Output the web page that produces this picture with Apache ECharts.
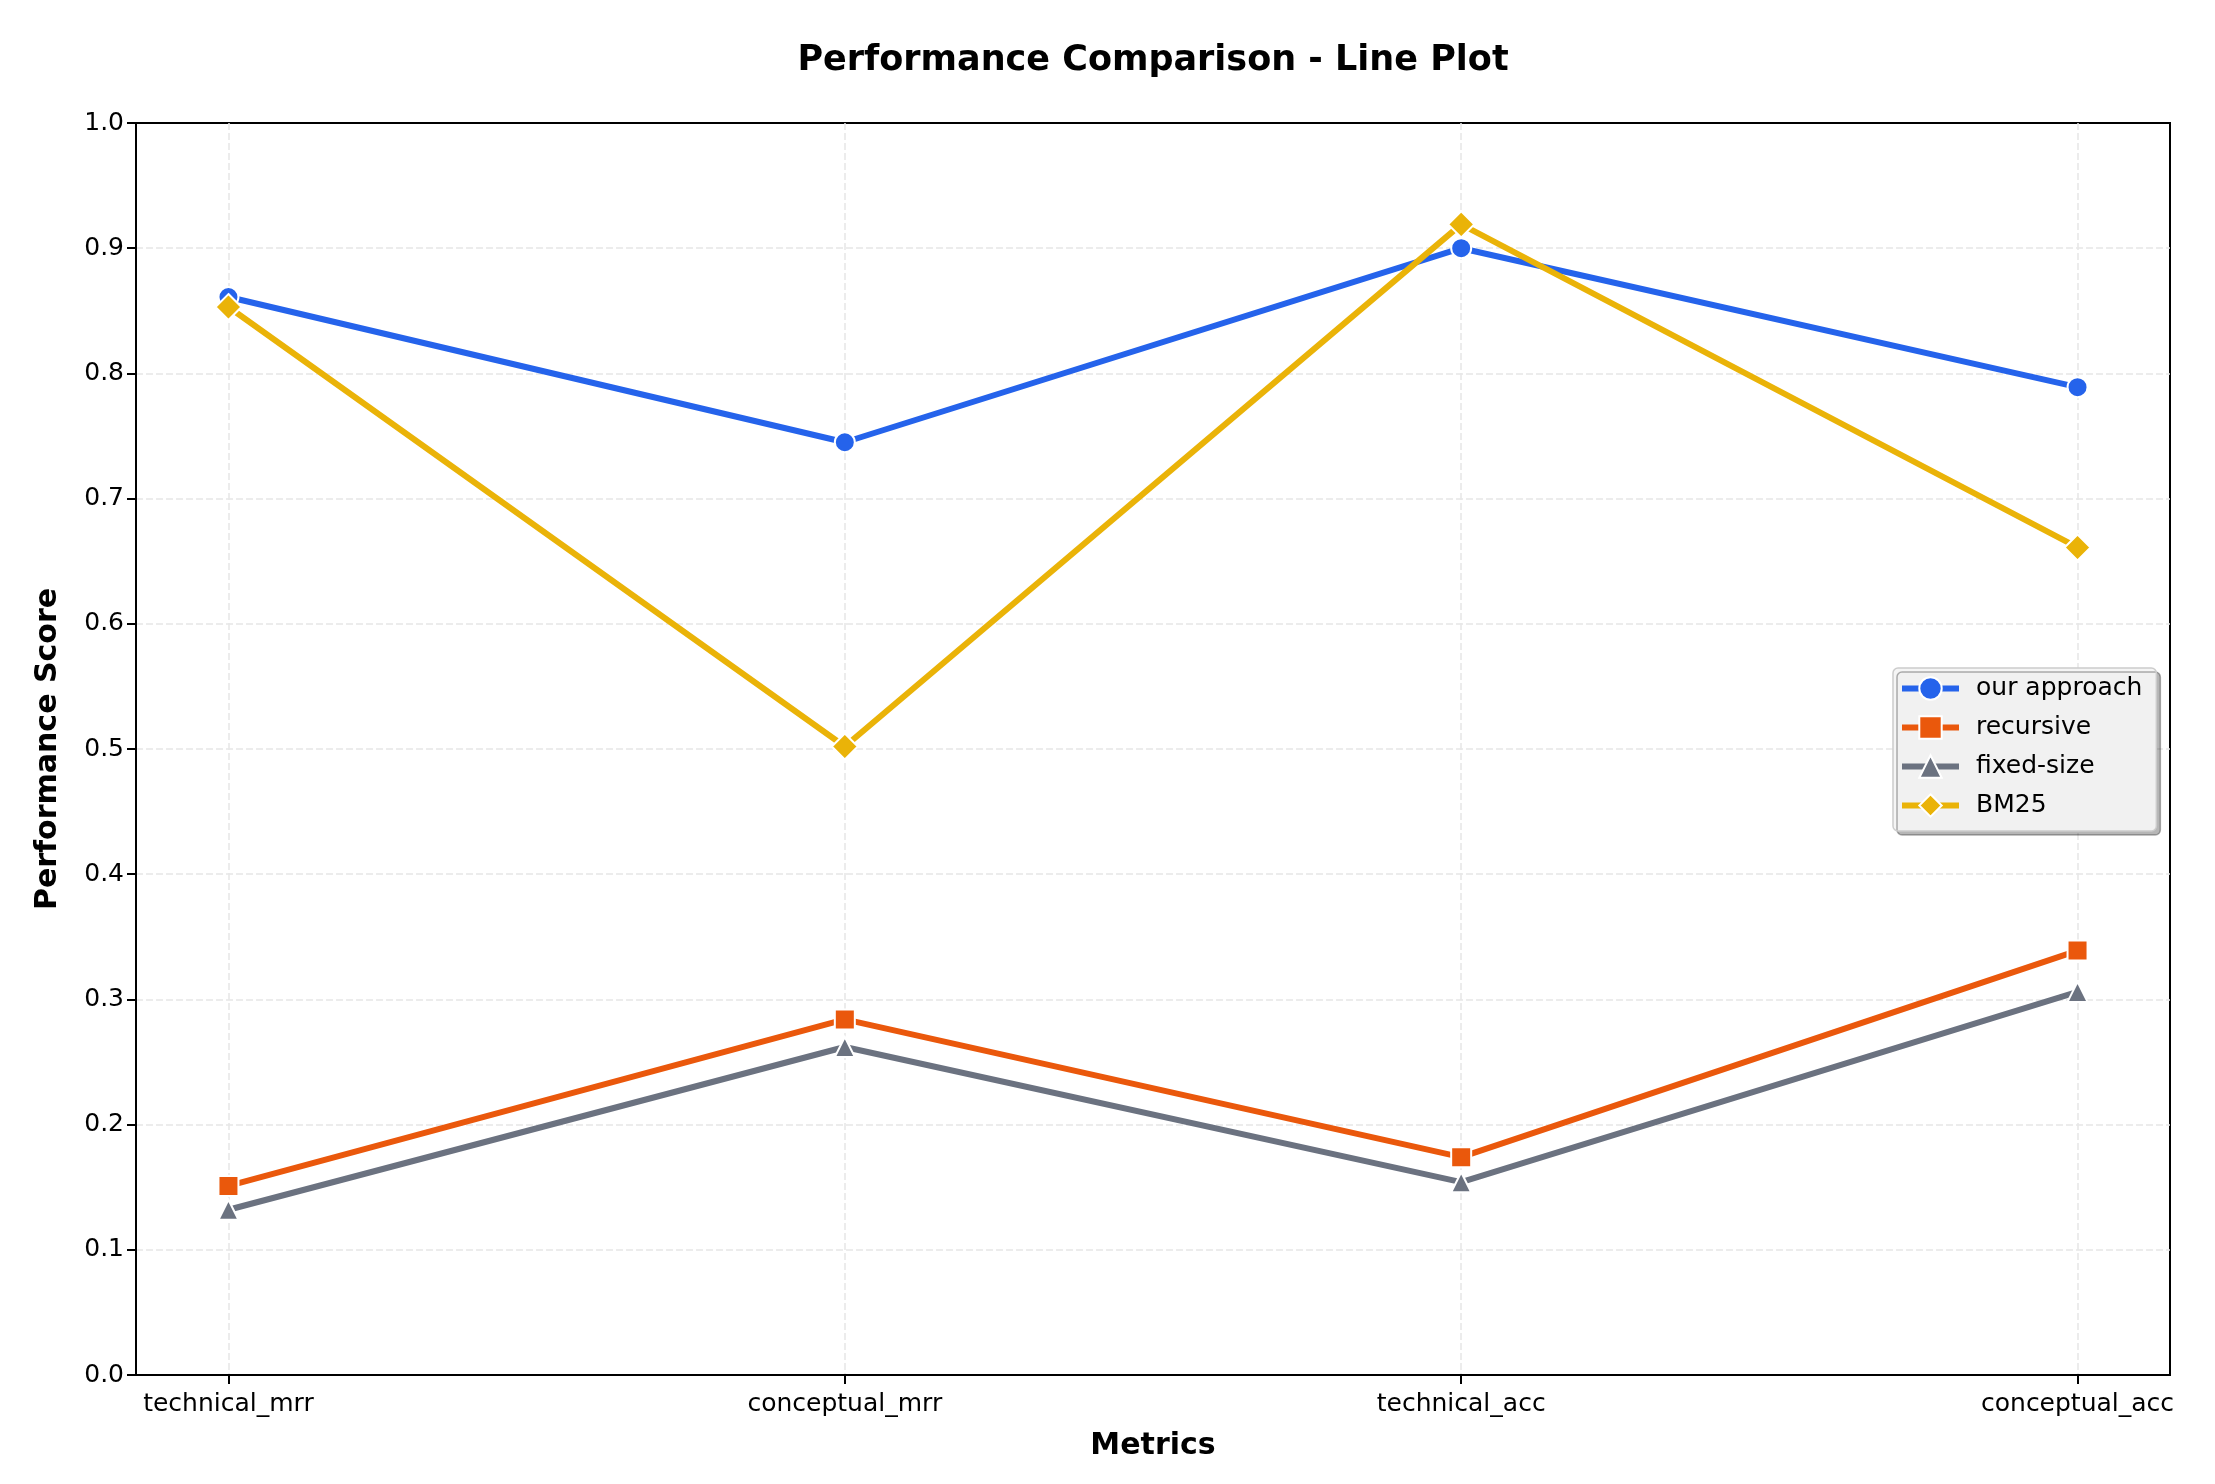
<!DOCTYPE html>
<html>
<head>
<meta charset="utf-8">
<script src="https://cdn.jsdelivr.net/npm/echarts@6/dist/echarts.min.js"></script>
<style>
html,body{margin:0;padding:0;background:#fff;}
#chart{width:2215px;height:1484px;}
</style>
</head>
<body>
<div id="chart"></div>
<script>
const categories = ['technical_mrr', 'conceptual_mrr', 'technical_acc', 'conceptual_acc'];
const ourApproach = [0.861, 0.745, 0.900, 0.789];
const recursive = [0.151, 0.284, 0.174, 0.339];
const fixedSize = [0.132, 0.262, 0.154, 0.306];
const bm25 = [0.853, 0.502, 0.919, 0.661];
const yTicks = [0, 0.1, 0.2, 0.3, 0.4, 0.5, 0.6, 0.7, 0.8, 0.9, 1.0];

const FONT = 'DejaVu Sans';
const catIdx = categories.map((_, i) => i);
const toPairs = arr => arr.map((v, i) => [i, v]);

function mkSeries(name, data, color, symbol, size, z) {
  return {
    name: name,
    type: 'line',
    data: toPairs(data),
    z: z,
    symbol: symbol,
    symbolSize: size,
    showAllSymbol: true,
    lineStyle: { color: color, width: 6 },
    itemStyle: { color: color, borderColor: '#ffffff', borderWidth: 2 },
    emphasis: { disabled: true }
  };
}

const chart = echarts.init(document.getElementById('chart'), null, { renderer: 'canvas' });
chart.setOption({
  animation: false,
  backgroundColor: '#ffffff',
  title: {
    text: 'Performance Comparison - Line Plot',
    left: 1153,
    top: 43,
    padding: 0,
    textAlign: 'center',
    textStyle: { fontFamily: FONT, fontSize: 35, fontWeight: 'bold', color: '#000' }
  },
  grid: {
    left: 136, top: 123, right: 45, bottom: 109,
    show: true, borderColor: '#000', borderWidth: 2, backgroundColor: 'transparent',
    containLabel: false
  },
  legend: {
    orient: 'vertical',
    left: 1893,
    top: 668,
    padding: [8, 14, 13, 6],
    itemWidth: 57,
    itemHeight: 28,
    itemGap: 14,
    backgroundColor: 'rgba(244,244,244,0.95)',
    borderColor: '#cccccc',
    borderWidth: 1.5,
    borderRadius: 5,
    shadowColor: 'rgba(0,0,0,0.3)',
    shadowBlur: 0,
    shadowOffsetX: 4,
    shadowOffsetY: 4,
    lineStyle: { width: 6 },
    textStyle: { fontFamily: FONT, fontSize: 25, color: '#000', padding: [0, 0, 0, 12] },
    data: ['our approach', 'recursive', 'fixed-size', 'BM25']
  },
  xAxis: {
    type: 'value',
    min: -0.15,
    max: 3.15,
    name: 'Metrics',
    nameLocation: 'middle',
    nameGap: 56,
    nameTextStyle: { fontFamily: FONT, fontSize: 30, fontWeight: 'bold', color: '#000' },
    axisLine: { show: true, onZero: false, lineStyle: { color: '#000', width: 2 } },
    axisTick: { show: true, inside: false, length: 9, customValues: catIdx, lineStyle: { color: '#000', width: 2 } },
    axisLabel: {
      customValues: catIdx,
      margin: 17,
      fontFamily: FONT, fontSize: 25, color: '#000',
      formatter: v => categories[Math.round(v)] || ''
    },
    splitLine: { show: true, showMinLine: true, showMaxLine: true, lineStyle: { color: '#e6e6e6', width: 1.5, type: [7, 3] } }
  },
  yAxis: {
    type: 'value',
    min: 0,
    max: 1,
    interval: 0.1,
    name: 'Performance Score',
    nameLocation: 'middle',
    nameGap: 73,
    nameRotate: 90,
    nameTextStyle: { fontFamily: FONT, fontSize: 30, fontWeight: 'bold', color: '#000' },
    axisLine: { show: true, onZero: false, lineStyle: { color: '#000', width: 2 } },
    axisTick: { show: true, inside: false, length: 9, lineStyle: { color: '#000', width: 2 } },
    axisLabel: {
      margin: 12,
      fontFamily: FONT, fontSize: 25, color: '#000',
      formatter: v => v.toFixed(1)
    },
    splitLine: { show: true, showMinLine: false, showMaxLine: false, lineStyle: { color: '#e6e6e6', width: 1.5, type: [7, 3] } }
  },
  series: [
    mkSeries('our approach', ourApproach, '#2563eb', 'circle', 20, 2),
    mkSeries('recursive', recursive, '#ea580c', 'rect', 20, 3),
    mkSeries('fixed-size', fixedSize, '#6b7280', 'triangle', 20, 4),
    mkSeries('BM25', bm25, '#eab308', 'diamond', 26, 5)
  ]
});
</script>
</body>
</html>
